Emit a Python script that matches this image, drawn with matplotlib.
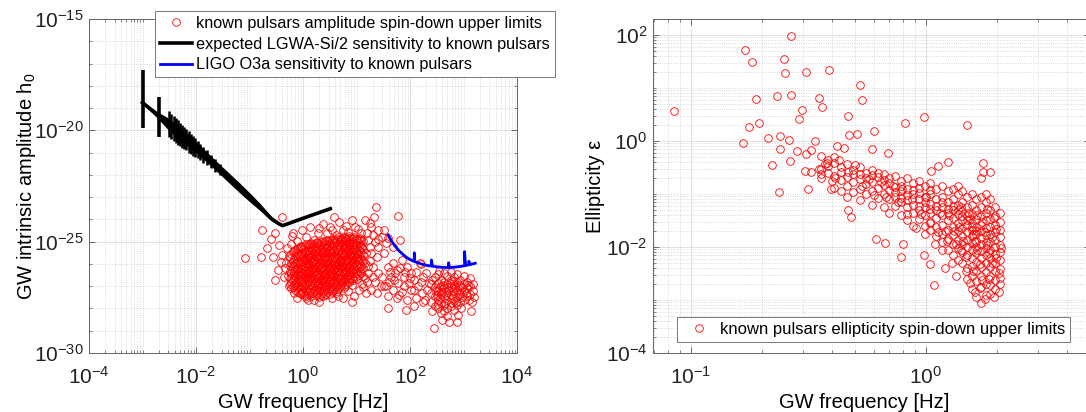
import numpy as np
import matplotlib.pyplot as plt
from matplotlib.ticker import NullFormatter, FixedLocator

plt.rcParams['font.family'] = ['Liberation Sans', 'DejaVu Sans']
plt.rcParams['mathtext.fontset'] = 'custom'
plt.rcParams['mathtext.rm'] = 'Liberation Sans'
plt.rcParams['mathtext.it'] = 'Liberation Sans:italic'

# ---- left panel data (log10 values) ----
# dense core of the normal pulsars: (log10 f, [log10 h0 ...])
core_cols = [
    (-0.24, [-25.72, -26.08, -26.31, -26.64, -26.9]),
    (-0.19, [-25.48, -25.9, -26.17, -26.5, -26.73, -27.04]),
    (-0.145, [-25.38, -25.63, -26.02, -26.28, -26.55, -26.92, -27.18]),
    (-0.095, [-25.27, -25.61, -25.86, -26.18, -26.41, -26.67, -26.98, -27.24]),
    (-0.04, [-25.18, -25.49, -25.79, -26.03, -26.38, -26.6, -26.83, -27.12, -27.36]),
    (0.005, [-25.33, -25.64, -25.93, -26.22, -26.47, -26.78, -27.02, -27.31]),
    (0.055, [-25.12, -25.42, -25.73, -25.98, -26.27, -26.56, -26.88, -27.17, -27.43]),
    (0.11, [-25.24, -25.57, -25.83, -26.13, -26.38, -26.68, -26.94, -27.28]),
    (0.155, [-25.06, -25.37, -25.68, -25.93, -26.23, -26.48, -26.82, -27.09, -27.46]),
    (0.205, [-25.19, -25.52, -25.78, -26.07, -26.33, -26.63, -26.87, -27.22]),
    (0.26, [-25.01, -25.32, -25.58, -25.91, -26.16, -26.43, -26.72, -27.01, -27.33]),
    (0.305, [-25.14, -25.46, -25.74, -26.02, -26.29, -26.57, -26.84, -27.16, -27.49]),
    (0.36, [-24.96, -25.27, -25.53, -25.86, -26.12, -26.38, -26.67, -26.93, -27.29]),
    (0.41, [-25.09, -25.41, -25.69, -25.97, -26.24, -26.52, -26.79, -27.11, -27.41]),
    (0.455, [-24.91, -25.22, -25.49, -25.81, -26.06, -26.34, -26.61, -26.89, -27.24]),
    (0.51, [-25.04, -25.36, -25.64, -25.92, -26.19, -26.46, -26.76, -27.06, -27.34]),
    (0.565, [-24.86, -25.16, -25.44, -25.76, -26.01, -26.29, -26.56, -26.86, -27.19]),
    (0.61, [-24.99, -25.31, -25.59, -25.87, -26.14, -26.41, -26.71, -26.99, -27.31]),
    (0.66, [-24.81, -25.11, -25.39, -25.71, -25.96, -26.26, -26.51, -26.81, -27.14]),
    (0.715, [-24.94, -25.26, -25.54, -25.82, -26.09, -26.36, -26.66, -26.96]),
    (0.76, [-24.79, -25.06, -25.34, -25.66, -25.91, -26.21, -26.46, -26.77, -27.08]),
    (0.81, [-24.89, -25.21, -25.49, -25.77, -26.04, -26.31, -26.61, -26.91]),
    (0.865, [-24.76, -25.04, -25.36, -25.61, -25.89, -26.16, -26.44, -26.79]),
    (0.91, [-24.88, -25.17, -25.46, -25.74, -26.01, -26.29, -26.62, -26.94]),
    (0.96, [-24.81, -25.09, -25.39, -25.66, -25.94, -26.21, -26.52]),
    (1.015, [-24.94, -25.24, -25.56, -25.84, -26.11, -26.39, -26.69]),
    (1.06, [-24.84, -25.14, -25.44, -25.76, -26.02, -26.31]),
    (1.115, [-24.99, -25.31, -25.61, -25.89, -26.19, -26.54]),
]
core_cols_b = [
    (-0.215, [-25.55, -25.95, -26.42, -26.8, -27.1]),
    (-0.17, [-25.42, -25.78, -26.1, -26.36, -26.62, -26.95]),
    (-0.12, [-25.33, -25.5, -25.95, -26.24, -26.48, -26.81, -27.07]),
    (-0.065, [-25.22, -25.7, -25.98, -26.3, -26.52, -26.74, -27.05, -27.3]),
    (-0.015, [-25.26, -25.56, -25.88, -26.12, -26.42, -26.69, -26.93, -27.22]),
    (0.03, [-25.2, -25.5, -25.84, -26.1, -26.33, -26.64, -26.95, -27.38]),
    (0.085, [-25.16, -25.36, -25.62, -25.9, -26.2, -26.47, -26.76, -27.08, -27.35]),
    (0.13, [-25.12, -25.48, -25.75, -26.04, -26.3, -26.58, -26.9, -27.19]),
    (0.18, [-25.1, -25.28, -25.61, -25.86, -26.14, -26.41, -26.7, -26.98, -27.3]),
    (0.235, [-25.08, -25.42, -25.66, -25.98, -26.25, -26.52, -26.79, -27.12, -27.4]),
    (0.285, [-25.06, -25.23, -25.52, -25.8, -26.08, -26.36, -26.63, -26.92, -27.24]),
    (0.335, [-25.03, -25.36, -25.64, -25.94, -26.2, -26.48, -26.75, -27.04, -27.38]),
    (0.385, [-25.0, -25.18, -25.47, -25.77, -26.03, -26.31, -26.58, -26.86, -27.2]),
    (0.435, [-24.98, -25.31, -25.6, -25.89, -26.14, -26.43, -26.71, -27.0, -27.33]),
    (0.485, [-24.96, -25.13, -25.41, -25.72, -25.99, -26.26, -26.53, -26.83, -27.15]),
    (0.535, [-24.93, -25.27, -25.55, -25.84, -26.1, -26.38, -26.66, -26.97, -27.27]),
    (0.585, [-24.92, -25.08, -25.37, -25.67, -25.93, -26.21, -26.49, -26.78, -27.1]),
    (0.635, [-24.9, -25.22, -25.5, -25.79, -26.05, -26.33, -26.6, -26.9, -27.22]),
    (0.685, [-24.87, -25.02, -25.31, -25.62, -25.88, -26.17, -26.43, -26.72, -27.02]),
    (0.735, [-24.86, -25.17, -25.46, -25.74, -26.0, -26.28, -26.56, -26.86]),
    (0.785, [-24.84, -24.98, -25.27, -25.57, -25.83, -26.12, -26.38, -26.67, -26.99]),
    (0.835, [-24.82, -25.12, -25.41, -25.69, -25.96, -26.22, -26.51, -26.82]),
    (0.885, [-24.83, -24.97, -25.24, -25.53, -25.8, -26.07, -26.36, -26.66]),
    (0.935, [-24.84, -25.03, -25.31, -25.58, -25.86, -26.12, -26.42, -26.74]),
    (0.985, [-24.87, -25.17, -25.47, -25.76, -26.03, -26.3, -26.6]),
    (1.04, [-24.9, -25.07, -25.36, -25.66, -25.93, -26.2, -26.5]),
    (1.09, [-24.92, -25.22, -25.52, -25.82, -26.1, -26.42]),
]
core_extra = [
    (0.18, -25.9), (0.23, -26.45), (0.28, -25.7), (0.33, -26.2), (0.38, -26.75),
    (0.43, -25.6), (0.48, -26.15), (0.53, -26.6), (0.58, -25.9), (0.63, -26.3),
    (0.68, -26.05), (0.73, -25.55), (0.78, -26.35), (0.83, -25.85), (0.88, -26.3),
    (0.2, -26.2), (0.25, -25.4), (0.3, -26.9), (0.35, -25.45), (0.4, -26.45),
    (0.45, -25.95), (0.5, -25.5), (0.55, -26.4), (0.6, -25.7), (0.65, -26.65),
    (0.7, -25.85), (0.75, -26.1), (0.8, -25.3), (0.85, -26.55), (0.9, -25.6),
    (0.12, -26.0), (0.07, -26.4), (0.02, -25.8), (0.95, -25.25), (1.0, -25.7),
    (0.15, -26.65), (0.1, -25.7), (0.42, -27.0), (0.62, -27.05), (0.72, -26.8),
]
# rim of the normal-pulsar cloud and outliers
amp_edge = [
    (-1.09, -25.75), (-0.79, -25.7), (-0.76, -24.48), (-0.39, -23.88), (-0.59, -24.9),
    (-0.67, -25.3), (-0.52, -24.63), (-0.44, -25.15), (-0.56, -25.67), (-0.39, -25.6),
    (-0.32, -25.97), (-0.46, -26.27), (-0.52, -26.72), (-0.36, -26.57), (-0.26, -27.0),
    (-0.16, -27.3), (-0.12, -27.54), (0.06, -27.54), (-0.3, -25.3), (-0.34, -26.2),
    (-0.28, -26.55), (-0.22, -25.1), (-0.27, -25.65), (-0.41, -25.9), (-0.2, -24.75),
    (-0.12, -24.95), (-0.19, -24.63), (-0.02, -24.48), (0.14, -24.33), (0.28, -24.63),
    (0.38, -24.2), (0.55, -24.48), (0.68, -24.1), (0.75, -24.48), (0.91, -24.03),
    (0.98, -24.33), (1.08, -24.63), (1.15, -24.03), (1.28, -24.33), (1.31, -24.7),
    (1.41, -24.48), (1.48, -24.78), (1.51, -24.48), (1.55, -25.07), (1.41, -25.22),
    (1.51, -25.52), (1.38, -25.67), (1.28, -25.52), (0.58, -23.88), (1.36, -23.46),
    (1.78, -23.85), (1.33, -23.88), (1.25, -24.18), (1.58, -24.85), (1.82, -24.93),
    (1.68, -25.22), (0.21, -24.93), (1.21, -24.93), (1.11, -25.22), (0.05, -24.8),
    (0.45, -24.6), (0.62, -24.7), (0.85, -24.55), (1.2, -24.6), (1.35, -25.0),
    (1.18, -25.5), (1.25, -25.25), (0.3, -24.4), (1.15, -25.97), (1.21, -26.42),
    (1.31, -26.12), (1.35, -26.79), (1.28, -27.16), (1.18, -27.31), (1.41, -26.42),
    (1.45, -27.01), (1.38, -27.31), (1.05, -27.16), (0.95, -27.46), (0.75, -27.54),
    (0.55, -27.54), (0.38, -27.46), (0.21, -27.61), (0.92, -27.69), (1.2, -26.8),
    (1.1, -26.9), (0.85, -27.2), (1.25, -25.85), (0.65, -27.45), (0.3, -27.7),
    (0.1, -27.6), (1.22, -26.1), (1.3, -26.6), (1.16, -26.65), (1.13, -27.05),
    (1.02, -24.45), (0.8, -24.3), (0.5, -24.35), (1.4, -24.9),
]
# between the two clouds
amp_bridge = [
    (1.58, -26.12), (1.68, -25.97), (1.72, -26.42), (1.82, -26.19), (1.88, -26.57),
    (1.61, -26.79), (1.78, -26.87), (1.95, -26.12), (2.02, -26.42), (1.98, -26.87),
    (2.08, -26.72), (1.51, -27.01), (1.68, -27.16), (1.85, -27.24), (2.02, -27.16),
    (2.15, -27.01), (2.22, -27.31), (1.58, -27.46), (1.75, -27.54), (1.95, -27.61),
    (2.12, -27.54), (2.28, -27.61), (1.58, -27.99), (1.92, -28.06), (1.75, -26.27),
    (1.85, -25.82), (2.12, -26.34), (2.25, -26.57), (2.35, -26.87), (2.18, -25.97),
    (1.65, -26.57), (2.08, -27.16), (2.32, -27.16), (2.42, -28.1), (2.08, -27.91),
    (1.55, -27.01), (1.48, -26.57), (1.88, -27.01), (2.25, -27.69), (1.7, -26.7),
    (1.8, -27.4), (1.63, -26.35), (2.0, -26.65), (2.2, -26.8), (1.9, -26.35),
]
# millisecond pulsars: (log10 f, [log10 h0 ...])
msp_cols = [
    (2.40, [-26.9, -27.3, -27.7]),
    (2.46, [-26.6, -27.05, -27.45, -27.9]),
    (2.52, [-26.45, -26.85, -27.2, -27.6, -28.0]),
    (2.58, [-26.7, -27.0, -27.35, -27.75, -28.2]),
    (2.64, [-26.4, -26.8, -27.1, -27.5, -27.85]),
    (2.70, [-26.55, -26.9, -27.25, -27.6, -28.0, -28.35]),
    (2.76, [-26.35, -26.7, -27.05, -27.4, -27.75]),
    (2.82, [-26.6, -26.95, -27.3, -27.65, -28.05]),
    (2.88, [-26.45, -26.8, -27.15, -27.5, -27.85]),
    (2.94, [-26.7, -27.0, -27.35, -27.7]),
    (3.00, [-26.55, -26.9, -27.25, -27.6]),
    (3.06, [-26.8, -27.1, -27.45]),
    (3.12, [-26.65, -27.0, -27.35]),
    (3.18, [-27.2, -26.9]),
]
msp_extra = [
    (2.45, -28.88), (2.72, -28.6), (2.88, -28.6), (3.15, -27.7), (3.14, -28.1),
    (2.6, -28.5), (2.3, -26.4), (2.55, -26.3), (2.9, -28.3), (3.2, -27.5), (2.2, -26.0),
    (2.55, -27.1), (2.62, -26.95), (2.68, -27.4), (2.73, -27.15), (2.79, -27.55),
    (2.85, -27.05), (2.91, -27.3), (2.97, -27.5), (2.5, -27.4), (2.56, -27.55),
    (2.66, -27.75), (2.74, -26.85), (2.8, -27.2), (2.86, -27.7), (2.92, -26.95),
    (2.98, -27.1), (3.04, -27.3), (2.6, -27.25), (2.7, -27.05), (2.77, -27.9),
    (2.83, -26.75), (2.48, -27.2), (2.42, -26.7), (3.08, -26.95), (3.1, -27.6),
    (2.95, -28.0), (2.64, -28.1), (2.52, -27.8),
]

# expected LGWA-Si/2 sensitivity (centre and half-width of the jagged band)
sens_logf = [-3.0, -2.85, -2.7, -2.55, -2.4, -2.2, -2.0, -1.8, -1.6, -1.4, -1.2,
             -1.0, -0.8, -0.6, -0.45, -0.38, 0.0, 0.51]
sens_logh = [-18.75, -19.05, -19.35, -19.65, -19.95, -20.35, -20.75, -21.2, -21.65,
             -22.1, -22.55, -23.0, -23.45, -23.95, -24.2, -24.28, -23.95, -23.52]
sens_half = [0.05, 0.1, 0.15, 0.25, 0.28, 0.28, 0.25, 0.23, 0.22, 0.22, 0.22,
             0.2, 0.16, 0.1, 0.05, 0.02, 0.01, 0.01]
spike_logf = [-3.0, -2.69, -2.5, -2.46, -2.42, -2.38, -2.34, -2.3, -2.26, -2.22, -2.18,
              -2.14, -2.1, -2.06, -2.02, -1.97, -1.92, -1.87, -1.8, -1.72, -1.64, -1.55]
spike_lo = [-19.9, -20.3, -20.3, -20.4, -20.5, -20.55, -20.65, -20.7, -20.8, -20.85, -20.9,
            -21.0, -21.05, -21.15, -21.2, -21.25, -21.35, -21.45, -21.55, -21.7, -21.85, -22.0]
spike_hi = [-17.3, -18.5, -19.15, -19.25, -19.35, -19.45, -19.55, -19.65, -19.75, -19.85,
            -19.95, -20.05, -20.15, -20.25, -20.35, -20.5, -20.6, -20.75, -20.9, -21.1,
            -21.3, -21.5]

# LIGO O3a sensitivity
ligo_logf = [1.59, 1.65, 1.72, 1.8, 1.88, 1.96, 2.04, 2.08, 2.08, 2.09, 2.15, 2.25,
             2.35, 2.4, 2.4, 2.42, 2.5, 2.6, 2.68, 2.72, 2.72, 2.74, 2.85, 2.95,
             3.02, 3.02, 3.04, 3.1, 3.1, 3.12, 3.22]
ligo_logh = [-24.7, -24.95, -25.2, -25.42, -25.6, -25.75, -25.85, -25.88, -25.5, -25.9,
             -25.95, -26.03, -26.08, -26.09, -25.82, -26.1, -26.13, -26.15, -26.16,
             -26.16, -25.95, -26.16, -26.14, -26.11, -26.08, -25.45, -26.07, -26.04,
             -25.88, -26.03, -25.97]

# ---- right panel data ----
ell_sparse = [
    (-1.07, 0.56), (-0.768, 1.71), (-0.741, 1.49), (-0.724, 0.79), (-0.71, 0.33),
    (-0.753, 0.26), (-0.78, -0.03), (-0.671, 0.06), (-0.655, -0.46), (-0.625, -0.96),
    (-0.62, 0.09), (-0.62, -0.15), (-0.635, 0.85), (-0.604, 1.55), (-0.60, 1.29),
    (-0.574, 1.98), (-0.574, 0.875), (-0.584, 0.02), (-0.58, -0.38), (-0.547, -0.19),
    (-0.54, 0.41), (-0.525, 0.59), (-0.508, 1.3), (-0.508, -0.24), (-0.50, -0.91),
    (-0.515, -0.575), (-0.49, -0.59), (-0.49, -0.175), (-0.47, 0.0), (-0.456, 0.81),
    (-0.44, 0.64), (-0.454, -0.52), (-0.448, -0.625), (-0.42, -0.42), (-0.41, 1.34),
    (-0.403, -0.91), (-0.385, -0.69), (-0.38, -0.09), (-0.35, -0.13), (-0.33, 0.475),
    (-0.325, 0.11), (-0.293, 0.13), (-0.33, -1.3), (-0.32, -1.44), (-0.28, 1.05),
    (-0.27, 0.78), (-0.22, 0.19), (-0.23, -0.16), (-0.16, -0.22), (-0.09, 0.34),
    (-0.009, 0.455), (0.176, 0.31), (-0.21, -1.84), (-0.175, -1.92), (-0.106, -2.19),
    (-0.097, -1.95), (0.037, -2.71), (0.242, -0.42), (0.275, -0.58), (0.245, -0.58),
    (0.093, -0.39), (0.05, -0.47), (0.023, -0.575), (-0.007, -2.16), (0.02, -2.33),
    (0.083, -2.39),
]
ell_cols = [
    (-0.445, [-0.28, -0.52, -0.70]),
    (-0.415, [-0.36, -0.61, -0.47]),
    (-0.39, [-0.42, -0.66, -0.88, -0.3]),
    (-0.36, [-0.5, -0.74, -0.58, -0.95]),
    (-0.335, [-0.44, -0.68, -0.85, -1.05]),
    (-0.31, [-0.55, -0.78, -0.63, -0.97]),
    (-0.28, [-0.5, -0.72, -0.9, -1.12, -0.62]),
    (-0.255, [-0.6, -0.82, -1.0, -0.7]),
    (-0.23, [-0.55, -0.78, -0.95, -1.2, -0.65]),
    (-0.205, [-0.68, -0.88, -1.08, -0.6]),
    (-0.18, [-0.62, -0.84, -1.0, -1.25, -0.74]),
    (-0.155, [-0.7, -0.92, -1.1, -0.8, -1.35]),
    (-0.13, [-0.66, -0.86, -1.05, -1.22, -0.96]),
    (-0.105, [-0.75, -0.95, -1.15, -1.4, -0.85, -1.08]),
    (-0.08, [-0.7, -0.9, -1.02, -1.25, -1.5, -1.12]),
    (-0.055, [-0.8, -1.0, -1.2, -1.35, -0.92, -1.6]),
    (-0.03, [-0.76, -0.98, -1.1, -1.3, -1.48, -1.22, -0.88]),
    (-0.005, [-0.85, -1.05, -1.25, -1.4, -1.6, -1.15, -1.75]),
    (0.02, [-0.8, -1.0, -1.18, -1.35, -1.52, -1.28, -1.68, -0.92]),
    (0.045, [-0.9, -1.1, -1.3, -1.45, -1.62, -1.22, -1.8]),
    (0.07, [-0.85, -1.05, -1.25, -1.4, -1.58, -1.75, -1.15, -1.9]),
    (0.095, [-0.95, -1.15, -1.35, -1.5, -1.68, -1.28, -1.85, -2.05]),
    (0.115, [-0.9, -1.1, -1.3, -1.45, -1.62, -1.78, -1.22, -1.95, -2.15]),
    (0.135, [-1.0, -1.2, -1.38, -1.55, -1.7, -1.86, -1.3, -2.02, -2.25, -0.85]),
    (0.155, [-0.95, -1.15, -1.33, -1.5, -1.65, -1.8, -1.95, -2.1, -1.42, -2.3]),
    (0.175, [-1.05, -1.25, -1.42, -1.58, -1.72, -1.86, -2.0, -2.15, -1.5, -2.4, -2.6]),
    (0.195, [-1.0, -1.2, -1.38, -1.55, -1.68, -1.8, -1.92, -2.05, -2.2, -1.62, -2.35,
             -2.55, -2.8]),
    (0.215, [-1.1, -1.3, -1.48, -1.62, -1.75, -1.88, -2.0, -2.12, -2.28, -1.7, -2.45,
             -2.65, -2.95]),
    (0.235, [-0.7, -1.05, -1.25, -1.42, -1.58, -1.7, -1.83, -1.95, -2.08, -2.2, -2.38,
             -2.55, -2.75, -3.05]),
    (0.255, [-1.15, -1.35, -1.5, -1.65, -1.78, -1.9, -2.02, -2.15, -2.3, -2.48, -2.7,
             -2.9, -1.0]),
    (0.275, [-1.1, -1.3, -1.48, -1.62, -1.76, -1.9, -2.05, -2.2, -2.38, -2.55, -2.72,
             -2.88]),
    (0.295, [-1.25, -1.42, -1.58, -1.72, -1.86, -2.0, -2.14, -2.3, -2.45, -2.62, -2.8]),
    (0.315, [-1.35, -1.52, -1.68, -1.82, -1.96, -2.1, -2.25, -2.42, -2.58, -2.7]),
]
ell_extra = [
    (0.14, -1.62), (0.16, -1.88), (0.18, -1.35), (0.2, -1.75), (0.22, -2.06),
    (0.24, -1.52), (0.26, -1.96), (0.28, -2.3), (0.3, -1.66), (0.32, -2.02),
    (0.17, -2.18), (0.19, -1.48), (0.21, -1.9), (0.23, -2.32), (0.25, -1.72),
    (0.27, -2.12), (0.29, -1.45), (0.31, -2.5), (0.13, -1.95), (0.15, -1.25),
    (0.2, -2.45), (0.22, -1.4), (0.24, -2.62), (0.26, -1.28), (0.28, -1.82),
    (0.3, -2.2), (0.12, -1.7), (0.1, -1.4), (0.08, -1.7), (0.06, -1.35),
    (0.04, -1.95), (0.02, -1.55), (0.0, -1.05), (-0.02, -1.38), (-0.04, -1.65),
    (-0.06, -1.1), (-0.08, -1.38), (-0.1, -0.9), (-0.12, -1.15), (-0.14, -0.85),
    (-0.17, -1.05), (-0.19, -0.78), (-0.22, -1.02), (-0.24, -0.72), (-0.27, -0.85),
    (-0.3, -0.45), (-0.33, -0.58), (-0.37, -0.35), (-0.4, -0.75), (-0.43, -0.44),
    (0.21, -2.85), (0.25, -2.98), (0.19, -2.68), (0.17, -2.45), (0.23, -2.78),
    (0.27, -2.6), (0.29, -2.95), (0.31, -2.85), (0.15, -2.05), (0.11, -2.3),
    (0.07, -2.05), (0.13, -2.55), (0.05, -1.72), (0.09, -1.88),
]


def unpack(cols, pairs):
    xs = [c for c, ys in cols for _ in ys] + [p[0] for p in pairs]
    ys = [y for c, ys in cols for y in ys] + [p[1] for p in pairs]
    return 10.0 ** np.array(xs), 10.0 ** np.array(ys)


def style_axes(ax, xmaj, xmin, ymaj, ymin):
    ax.set_xscale('log')
    ax.set_yscale('log')
    ax.xaxis.set_major_locator(FixedLocator(xmaj))
    ax.xaxis.set_minor_locator(FixedLocator(xmin))
    ax.yaxis.set_major_locator(FixedLocator(ymaj))
    ax.yaxis.set_minor_locator(FixedLocator(ymin))
    ax.xaxis.set_minor_formatter(NullFormatter())
    ax.yaxis.set_minor_formatter(NullFormatter())
    ax.grid(which='major', color='#dcdcdc', lw=0.6)
    ax.grid(which='minor', color='#cfcfcf', lw=0.6, ls=':')
    ax.set_axisbelow(True)
    ax.tick_params(which='both', direction='in', top=True, right=True,
                   color='#555555', labelsize=15, labelcolor='#222222')
    ax.tick_params(which='major', length=4, width=0.6)
    ax.tick_params(which='minor', length=2, width=0.5)
    ax.tick_params(axis='x', pad=9)
    ax.tick_params(axis='y', pad=4)
    for s in ax.spines.values():
        s.set_color('#666666')
        s.set_linewidth(0.7)


mk = dict(ls='none', marker='o', mfc='none', mec='red', ms=5.5, mew=0.6)

fig = plt.figure(figsize=(10.86, 4.12), dpi=100)
ax1 = fig.add_axes([89 / 1086, 59 / 412, 428 / 1086, 334 / 412])
ax2 = fig.add_axes([653 / 1086, 59 / 412, 437 / 1086, 334 / 412])

# left panel
fa, ha = unpack(core_cols, core_extra + amp_edge + amp_bridge)
fb, hb = unpack(core_cols_b, [])
fc, hc = unpack(msp_cols, msp_extra)
ax1.plot(np.concatenate([fa, fb, fc]), np.concatenate([ha, hb, hc]),
         label='known pulsars amplitude spin-down upper limits', **mk)
sf = 10.0 ** np.array(sens_logf)
lo = 10.0 ** (np.array(sens_logh) - np.array(sens_half))
hi = 10.0 ** (np.array(sens_logh) + np.array(sens_half))
ax1.fill_between(sf, lo, hi, color='black', lw=0)
ax1.plot(sf, 10.0 ** np.array(sens_logh), color='black', lw=2.6,
         label='expected LGWA-Si/2 sensitivity to known pulsars')
ax1.vlines(10.0 ** np.array(spike_logf[:2]), 10.0 ** np.array(spike_lo[:2]),
           10.0 ** np.array(spike_hi[:2]), color='black', lw=2.6)
ax1.vlines(10.0 ** np.array(spike_logf[2:]), 10.0 ** np.array(spike_lo[2:]),
           10.0 ** np.array(spike_hi[2:]), color='black', lw=1.8)
ax1.plot(10.0 ** np.array(ligo_logf), 10.0 ** np.array(ligo_logh), color='blue', lw=2.0,
         label='LIGO O3a sensitivity to known pulsars')

decs = np.arange(-4, 4)
xmin1 = [k * 10.0 ** d for d in decs for k in range(2, 10)] + [10.0 ** d for d in (-3, -1, 1, 3)]
ymin1 = [10.0 ** d for d in range(-30, -14) if d % 5 != 0]
style_axes(ax1, [1e-4, 1e-2, 1, 1e2, 1e4], xmin1, [1e-30, 1e-25, 1e-20, 1e-15], ymin1)
ax1.set_xlim(1e-4, 1e4)
ax1.set_ylim(1e-30, 1e-15)
ax1.set_xlabel('GW frequency [Hz]', fontsize=14.5)
ax1.set_ylabel('GW intrinsic amplitude h$_0$', fontsize=14.5)
ax1.xaxis.set_label_coords(0.5, -0.12)
ax1.yaxis.set_label_coords(-0.12, 0.5)
leg1 = ax1.legend(loc='upper left', bbox_to_anchor=(155 / 1086, 1 - 11 / 412),
                  bbox_transform=fig.transFigure, fontsize=11.7, fancybox=False,
                  edgecolor='#777777', framealpha=1, borderpad=0.3, labelspacing=0.35,
                  handlelength=2, handletextpad=0.25, borderaxespad=0)
leg1.get_frame().set_linewidth(0.7)

# right panel
ex, ey = unpack(ell_cols, ell_sparse + ell_extra)
ax2.plot(ex, ey, label='known pulsars ellipticity spin-down upper limits', **mk)
xmin2 = [0.07, 0.08, 0.09] + [k * 0.1 for k in range(2, 10)] + [2, 3, 4, 5]
ymin2 = [k * 10.0 ** d for d in range(-4, 3) for k in range(1, 10) if not (k == 1 and d % 2 == 0)]
style_axes(ax2, [0.1, 1], xmin2, [1e-4, 1e-2, 1, 1e2], ymin2)
ax2.set_xlim(0.069, 5)
ax2.set_ylim(1e-4, 200)
ax2.set_xlabel('GW frequency [Hz]', fontsize=14.5)
ax2.set_ylabel('Ellipticity ε', fontsize=14.5)
ax2.xaxis.set_label_coords((864 - 653) / 437, -0.12)
ax2.yaxis.set_label_coords(-0.11, 0.5)
leg2 = ax2.legend(loc='lower left', bbox_to_anchor=(677 / 1086, 1 - 342 / 412),
                  bbox_transform=fig.transFigure, fontsize=12, fancybox=False,
                  edgecolor='#777777', framealpha=1, borderpad=0.3,
                  handlelength=2, handletextpad=0.25, borderaxespad=0)
leg2.get_frame().set_linewidth(0.7)

fig.savefig('out.png', dpi=100, facecolor='white')
